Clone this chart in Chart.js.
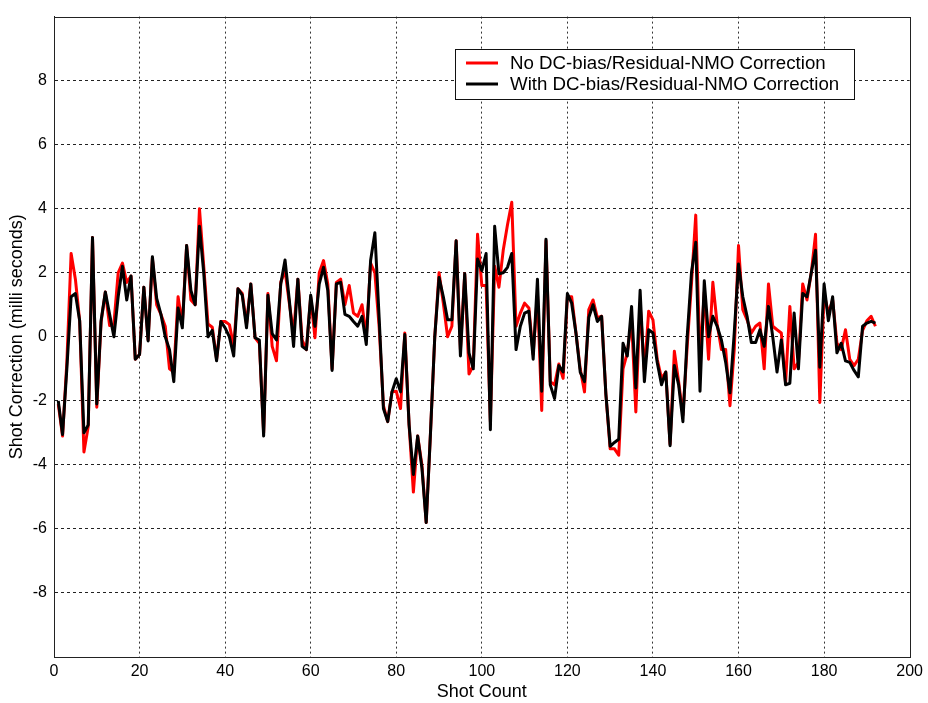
<!DOCTYPE html>
<html>
<head>
<meta charset="utf-8">
<script src="https://cdn.jsdelivr.net/npm/chart.js@4/dist/chart.umd.min.js"></script>
<style>
  html, body { margin: 0; padding: 0; background: #fff; }
  #wrap { width: 928px; height: 703px; position: relative; }
</style>
</head>
<body>
<div id="wrap"><canvas id="c" width="928" height="703"></canvas></div>
<script>
// ---- data ----
const seriesNames = ["No DC-bias/Residual-NMO Correction", "With DC-bias/Residual-NMO Correction"];
const xTickValues = [0, 20, 40, 60, 80, 100, 120, 140, 160, 180, 200];
const yTickLabels = ["-8", "-6", "-4", "-2", "0", "2", "4", "6", "8"];

const noCorrection = [
  -2.1, -3.1, -0.8, 2.6, 1.8, 0.5, -3.6, -2.8, 3.1, -2.2,
  0.45, 1.4, 0.35, 0.4, 2.0, 2.3, 1.7, 1.9, -0.7, -0.55,
  1.55, -0.1, 2.45, 1.0, 0.7, 0.33, -1.0, -1.1, 1.25, 0.4,
  2.85, 1.15, 1.0, 4.0, 2.2, 0.4, 0.3, -0.7, 0.48, 0.48,
  0.38, -0.3, 1.5, 1.35, 0.4, 1.65, -0.03, -0.2, -3.0, 1.35,
  -0.3, -0.75, 1.7, 2.07, 1.05, 0.1, 1.8, -0.1, -0.4, 1.25,
  -0.03, 2.0, 2.38, 1.65, -1.0, 1.7, 1.8, 1.0, 1.6, 0.74,
  0.64, 1.0, 0.0, 2.3, 2.0, 0.3, -2.15, -2.65, -1.72, -1.7,
  -2.24, 0.12, -2.75, -4.85, -3.1, -4.0, -5.8, -3.0, 0.0, 2.0,
  1.05, 0.0, 0.33, 3.0, -0.4, 1.97, -1.16, -0.9, 3.2, 1.6,
  1.6, -2.65, 2.2, 1.55, 2.7, 3.5, 4.2, 0.33, 0.74, 1.05,
  0.9, -0.55, 1.35, -2.3, 3.0, -1.4, -1.5, -0.85, -1.3, 1.25,
  1.25, 0.12, -1.0, -1.72, 0.85, 1.15, 0.6, 0.64, -1.8, -3.5,
  -3.5, -3.7, -1.0, -0.5, 0.53, -2.35, 1.05, -1.1, 0.8, 0.53,
  -0.7, -1.3, -1.1, -3.35, -0.45, -1.4, -2.45, -0.3, 1.65, 3.8,
  -0.7, 1.4, -0.7, 1.7, 0.4, -0.4, -0.4, -2.15, -0.4, 2.85,
  0.85, 0.53, 0.12, 0.33, 0.43, -1.0, 1.65, 0.33, 0.22, 0.12,
  -1.45, 0.95, -1.0, -0.8, 1.65, 1.15, 2.0, 3.2, -2.05, 1.35,
  0.74, 1.15, -0.2, -0.4, 0.22, -0.7, -0.9, -0.7, 0.2, 0.5,
  0.64, 0.33
];

const withCorrection = [
  -2.0, -3.05, -1.0, 1.25, 1.35, 0.5, -3.0, -2.75, 3.1, -2.1,
  0.5, 1.4, 0.7, 0.0, 1.25, 2.2, 1.15, 1.9, -0.7, -0.55,
  1.55, -0.13, 2.5, 1.2, 0.7, 0.0, -0.4, -1.4, 0.9, 0.28,
  2.85, 1.45, 1.0, 3.45, 2.0, 0.0, 0.2, -0.75, 0.48, 0.28,
  0.0, -0.6, 1.5, 1.3, 0.28, 1.65, -0.03, -0.1, -3.1, 1.3,
  0.1, -0.1, 1.65, 2.4, 1.15, -0.3, 1.8, -0.3, -0.4, 1.3,
  0.33, 1.65, 2.17, 1.45, -1.05, 1.65, 1.7, 0.7, 0.64, 0.48,
  0.33, 0.64, -0.24, 2.38, 3.25, 0.6, -2.24, -2.65, -1.72, -1.31,
  -1.72, 0.07, -2.75, -4.3, -3.1, -4.1, -5.8, -3.0, 0.0, 1.85,
  1.25, 0.53, 0.53, 3.0, -0.6, 1.97, -0.5, -1.0, 2.43, 2.07,
  2.6, -2.9, 3.45, 1.97, 2.0, 2.17, 2.6, -0.4, 0.33, 0.74,
  0.8, -0.7, 1.8, -1.7, 3.05, -1.5, -1.93, -0.9, -1.1, 1.35,
  1.05, 0.12, -1.1, -1.4, 0.6, 1.0, 0.48, 0.64, -1.8, -3.42,
  -3.3, -3.2, -0.2, -0.6, 0.95, -1.6, 1.45, -1.4, 0.22, 0.12,
  -0.8, -1.5, -1.1, -3.4, -0.9, -1.5, -2.65, 0.0, 2.0, 2.95,
  -1.7, 1.75, 0.0, 0.64, 0.33, -0.1, -0.8, -1.75, 0.12, 2.27,
  1.25, 0.64, -0.18, -0.18, 0.22, -0.3, 0.95, 0.0, -1.1, -0.1,
  -1.5, -1.45, 0.74, -1.0, 1.35, 1.25, 2.0, 2.7, -0.95, 1.65,
  0.5, 1.25, -0.5, -0.2, -0.75, -0.8, -1.05, -1.25, 0.33, 0.43,
  0.48, 0.43
];

// shot numbers (1..N) are just the sample index
const shotCount = [];
for (let i = 0; i < withCorrection.length; i++) shotCount.push(i + 1);

const FONT = "'Liberation Sans', Arial, Helvetica, sans-serif";

const toXY = (vals) => vals.map((v, i) => ({ x: shotCount[i], y: v }));

// box around the axes + custom legend
const framePlugin = {
  id: 'frame',
  afterDraw(chart) {
    const { ctx, chartArea: a } = chart;
    ctx.save();
    ctx.setLineDash([]);
    ctx.strokeStyle = '#222';
    ctx.lineWidth = 1;
    ctx.strokeRect(Math.round(a.left) + 0.5, Math.round(a.top) + 0.5,
                   Math.round(a.right - a.left), Math.round(a.bottom - a.top));
    // legend
    const bx = 455.5, by = 49.5, bw = 399, bh = 50;
    ctx.fillStyle = '#fff';
    ctx.fillRect(bx, by, bw, bh);
    ctx.strokeStyle = '#111';
    ctx.strokeRect(bx, by, bw, bh);
    ctx.font = '18.7px ' + FONT;
    ctx.textBaseline = 'middle';
    ctx.textAlign = 'left';
    const rows = [63, 84];
    chart.data.datasets.forEach((ds, i) => {
      ctx.strokeStyle = ds.borderColor;
      ctx.lineWidth = 3;
      ctx.beginPath();
      ctx.moveTo(466, rows[i]);
      ctx.lineTo(498, rows[i]);
      ctx.stroke();
      ctx.fillStyle = '#000';
      ctx.fillText(ds.label, 510, rows[i] + 1);
    });
    ctx.restore();
  }
};

const edgeHidden = (lo, hi, col) => (ctx) =>
  (ctx.tick && (ctx.tick.value === lo || ctx.tick.value === hi)) ? 'rgba(0,0,0,0)' : col;

new Chart(document.getElementById('c'), {
  type: 'line',
  data: {
    datasets: [
      { label: seriesNames[0], data: toXY(noCorrection), borderColor: '#ff0000', backgroundColor: '#ff0000',
        borderWidth: 3, pointRadius: 0, tension: 0, borderJoinStyle: 'round', order: 2 },
      { label: seriesNames[1], data: toXY(withCorrection), borderColor: '#000000', backgroundColor: '#000000',
        borderWidth: 3, pointRadius: 0, tension: 0, borderJoinStyle: 'round', order: 1 }
    ]
  },
  options: {
    responsive: false,
    animation: false,
    devicePixelRatio: 1,
    layout: { padding: { left: 0, top: 10, right: 18, bottom: 0 } },
    plugins: { legend: { display: false }, tooltip: { enabled: false } },
    scales: {
      x: {
        type: 'linear', min: 0, max: 200,
        afterBuildTicks(scale) { scale.ticks = xTickValues.map(v => ({ value: v })); },
        afterFit(scale) { scale.height = 46; },
        grid: { color: edgeHidden(0, 200, '#333'), lineWidth: 1, drawTicks: false },
        border: { display: true, color: '#222', dash: [2, 3] },
        ticks: { color: '#000', font: { family: FONT, size: 16 }, padding: 5, maxRotation: 0 },
        title: { display: true, text: 'Shot Count', color: '#000', font: { family: FONT, size: 18 }, padding: { top: 2, bottom: 0 } }
      },
      y: {
        type: 'linear', min: -10, max: 10,
        afterBuildTicks(scale) {
          const t = [];
          for (let v = -10; v <= 10; v += 2) t.push({ value: v });
          scale.ticks = t;
        },
        afterFit(scale) { scale.width = 54; },
        grid: { color: edgeHidden(-10, 10, '#222'), lineWidth: 1, drawTicks: false },
        border: { display: true, color: '#222', dash: [3, 3] },
        ticks: {
          color: '#000', font: { family: FONT, size: 16 }, padding: 7,
          callback: (v) => (yTickLabels.includes(String(v)) ? String(v) : '')
        },
        title: { display: true, text: 'Shot Correction (milli seconds)', color: '#000', font: { family: FONT, size: 18 }, padding: { top: 6, bottom: 0 } }
      }
    }
  },
  plugins: [framePlugin]
});
</script>
</body>
</html>
